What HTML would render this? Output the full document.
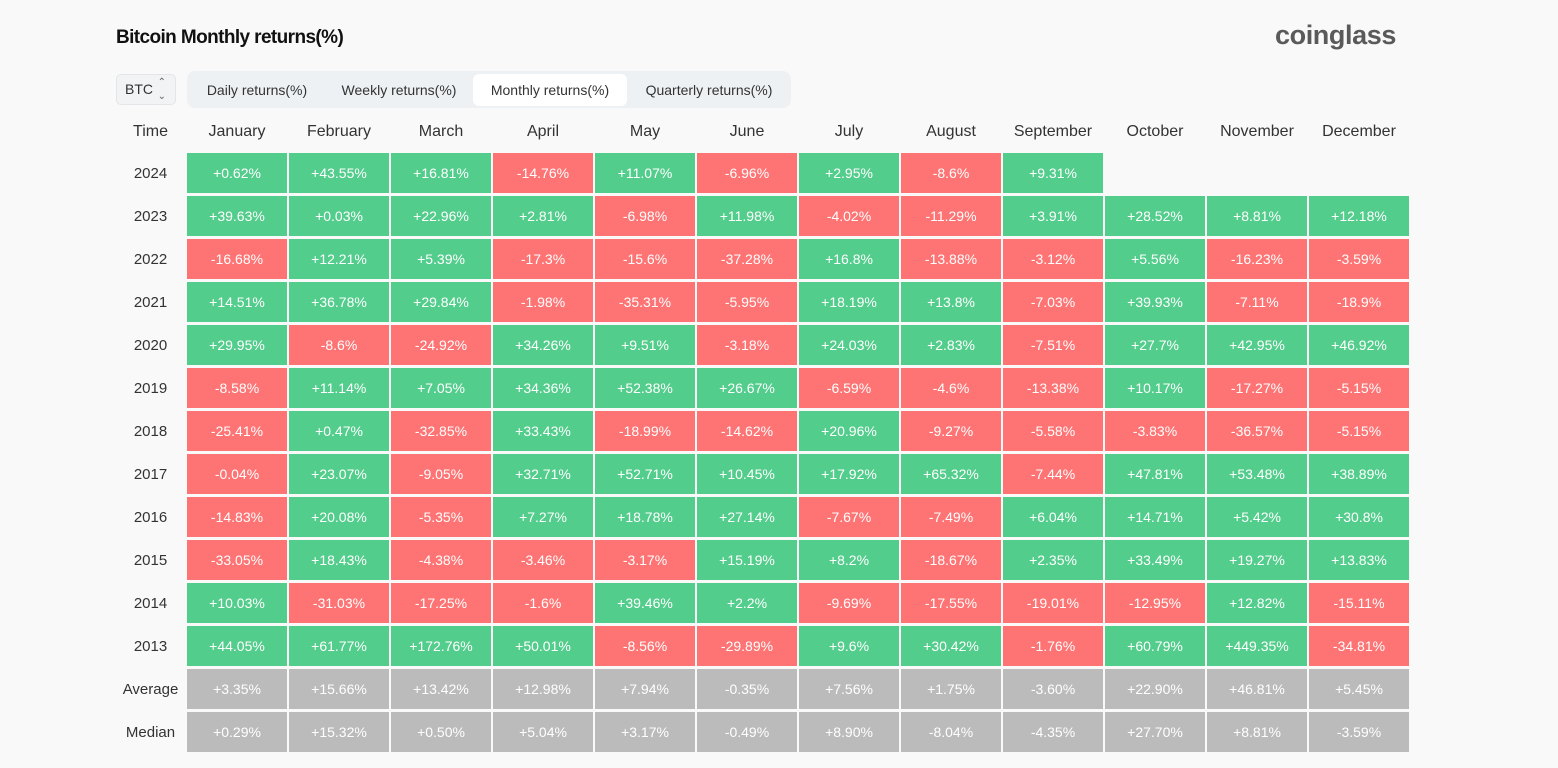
<!DOCTYPE html>
<html><head><meta charset="utf-8"><style>
body{margin:0;width:1558px;height:768px;background:#f9f9f9;font-family:"Liberation Sans",sans-serif;position:relative;overflow:hidden}
.title{position:absolute;left:116px;top:27px;font-size:19px;font-weight:bold;color:#111;letter-spacing:-0.6px}
.logo{position:absolute;left:1275px;top:20px;font-size:27px;font-weight:bold;color:#5a5a5a;letter-spacing:-0.4px}
.btc{position:absolute;left:116px;top:74px;width:60px;height:31px;box-sizing:border-box;border:1px solid #e3e5e8;border-radius:5px;background:#f1f3f5;font-size:14px;color:#333;line-height:29px;padding-left:8px}
.btc span{position:absolute;right:9px;top:1px;font-size:10px;color:#666;line-height:14px}
.tabs{position:absolute;left:187px;top:71px;width:604px;height:37px;background:#eef1f4;border-radius:8px}
.tab{position:absolute;top:3px;height:32px;line-height:32px;font-size:14px;color:#333;text-align:center}
.tab.on{background:#fff;border-radius:6px}
.grid{position:absolute;left:116px;top:110px;display:grid;grid-template-columns:69px repeat(12,100px);grid-auto-rows:40px;column-gap:2px;row-gap:3px}
.grid div{display:flex;align-items:center;justify-content:center;font-size:14px;color:#fff}
.grid .h{font-size:16px;color:#333;padding-top:4px;box-sizing:border-box}
.grid .y{font-size:15px;color:#333}
.g{background:#52cd8b}.r{background:#fe7373}.n{background:#bbbbbb}.e{background:transparent}
</style></head><body>
<div class="title">Bitcoin Monthly returns(%)</div>
<div class="logo">coinglass</div>
<div class="btc">BTC<span>⌃<br>⌄</span></div>
<div class="tabs">
<div class="tab" style="left:0;width:140px">Daily returns(%)</div>
<div class="tab" style="left:140px;width:144px">Weekly returns(%)</div>
<div class="tab on" style="left:286px;width:154px">Monthly returns(%)</div>
<div class="tab" style="left:440px;width:164px">Quarterly returns(%)</div>
</div>
<div class="grid">
<div class="h">Time</div><div class="h">January</div><div class="h">February</div><div class="h">March</div><div class="h">April</div><div class="h">May</div><div class="h">June</div><div class="h">July</div><div class="h">August</div><div class="h">September</div><div class="h">October</div><div class="h">November</div><div class="h">December</div>
<div class="y">2024</div><div class="g">+0.62%</div><div class="g">+43.55%</div><div class="g">+16.81%</div><div class="r">-14.76%</div><div class="g">+11.07%</div><div class="r">-6.96%</div><div class="g">+2.95%</div><div class="r">-8.6%</div><div class="g">+9.31%</div><div class="e"></div><div class="e"></div><div class="e"></div>
<div class="y">2023</div><div class="g">+39.63%</div><div class="g">+0.03%</div><div class="g">+22.96%</div><div class="g">+2.81%</div><div class="r">-6.98%</div><div class="g">+11.98%</div><div class="r">-4.02%</div><div class="r">-11.29%</div><div class="g">+3.91%</div><div class="g">+28.52%</div><div class="g">+8.81%</div><div class="g">+12.18%</div>
<div class="y">2022</div><div class="r">-16.68%</div><div class="g">+12.21%</div><div class="g">+5.39%</div><div class="r">-17.3%</div><div class="r">-15.6%</div><div class="r">-37.28%</div><div class="g">+16.8%</div><div class="r">-13.88%</div><div class="r">-3.12%</div><div class="g">+5.56%</div><div class="r">-16.23%</div><div class="r">-3.59%</div>
<div class="y">2021</div><div class="g">+14.51%</div><div class="g">+36.78%</div><div class="g">+29.84%</div><div class="r">-1.98%</div><div class="r">-35.31%</div><div class="r">-5.95%</div><div class="g">+18.19%</div><div class="g">+13.8%</div><div class="r">-7.03%</div><div class="g">+39.93%</div><div class="r">-7.11%</div><div class="r">-18.9%</div>
<div class="y">2020</div><div class="g">+29.95%</div><div class="r">-8.6%</div><div class="r">-24.92%</div><div class="g">+34.26%</div><div class="g">+9.51%</div><div class="r">-3.18%</div><div class="g">+24.03%</div><div class="g">+2.83%</div><div class="r">-7.51%</div><div class="g">+27.7%</div><div class="g">+42.95%</div><div class="g">+46.92%</div>
<div class="y">2019</div><div class="r">-8.58%</div><div class="g">+11.14%</div><div class="g">+7.05%</div><div class="g">+34.36%</div><div class="g">+52.38%</div><div class="g">+26.67%</div><div class="r">-6.59%</div><div class="r">-4.6%</div><div class="r">-13.38%</div><div class="g">+10.17%</div><div class="r">-17.27%</div><div class="r">-5.15%</div>
<div class="y">2018</div><div class="r">-25.41%</div><div class="g">+0.47%</div><div class="r">-32.85%</div><div class="g">+33.43%</div><div class="r">-18.99%</div><div class="r">-14.62%</div><div class="g">+20.96%</div><div class="r">-9.27%</div><div class="r">-5.58%</div><div class="r">-3.83%</div><div class="r">-36.57%</div><div class="r">-5.15%</div>
<div class="y">2017</div><div class="r">-0.04%</div><div class="g">+23.07%</div><div class="r">-9.05%</div><div class="g">+32.71%</div><div class="g">+52.71%</div><div class="g">+10.45%</div><div class="g">+17.92%</div><div class="g">+65.32%</div><div class="r">-7.44%</div><div class="g">+47.81%</div><div class="g">+53.48%</div><div class="g">+38.89%</div>
<div class="y">2016</div><div class="r">-14.83%</div><div class="g">+20.08%</div><div class="r">-5.35%</div><div class="g">+7.27%</div><div class="g">+18.78%</div><div class="g">+27.14%</div><div class="r">-7.67%</div><div class="r">-7.49%</div><div class="g">+6.04%</div><div class="g">+14.71%</div><div class="g">+5.42%</div><div class="g">+30.8%</div>
<div class="y">2015</div><div class="r">-33.05%</div><div class="g">+18.43%</div><div class="r">-4.38%</div><div class="r">-3.46%</div><div class="r">-3.17%</div><div class="g">+15.19%</div><div class="g">+8.2%</div><div class="r">-18.67%</div><div class="g">+2.35%</div><div class="g">+33.49%</div><div class="g">+19.27%</div><div class="g">+13.83%</div>
<div class="y">2014</div><div class="g">+10.03%</div><div class="r">-31.03%</div><div class="r">-17.25%</div><div class="r">-1.6%</div><div class="g">+39.46%</div><div class="g">+2.2%</div><div class="r">-9.69%</div><div class="r">-17.55%</div><div class="r">-19.01%</div><div class="r">-12.95%</div><div class="g">+12.82%</div><div class="r">-15.11%</div>
<div class="y">2013</div><div class="g">+44.05%</div><div class="g">+61.77%</div><div class="g">+172.76%</div><div class="g">+50.01%</div><div class="r">-8.56%</div><div class="r">-29.89%</div><div class="g">+9.6%</div><div class="g">+30.42%</div><div class="r">-1.76%</div><div class="g">+60.79%</div><div class="g">+449.35%</div><div class="r">-34.81%</div>
<div class="y">Average</div><div class="n">+3.35%</div><div class="n">+15.66%</div><div class="n">+13.42%</div><div class="n">+12.98%</div><div class="n">+7.94%</div><div class="n">-0.35%</div><div class="n">+7.56%</div><div class="n">+1.75%</div><div class="n">-3.60%</div><div class="n">+22.90%</div><div class="n">+46.81%</div><div class="n">+5.45%</div>
<div class="y">Median</div><div class="n">+0.29%</div><div class="n">+15.32%</div><div class="n">+0.50%</div><div class="n">+5.04%</div><div class="n">+3.17%</div><div class="n">-0.49%</div><div class="n">+8.90%</div><div class="n">-8.04%</div><div class="n">-4.35%</div><div class="n">+27.70%</div><div class="n">+8.81%</div><div class="n">-3.59%</div>
</div>
</body></html>
